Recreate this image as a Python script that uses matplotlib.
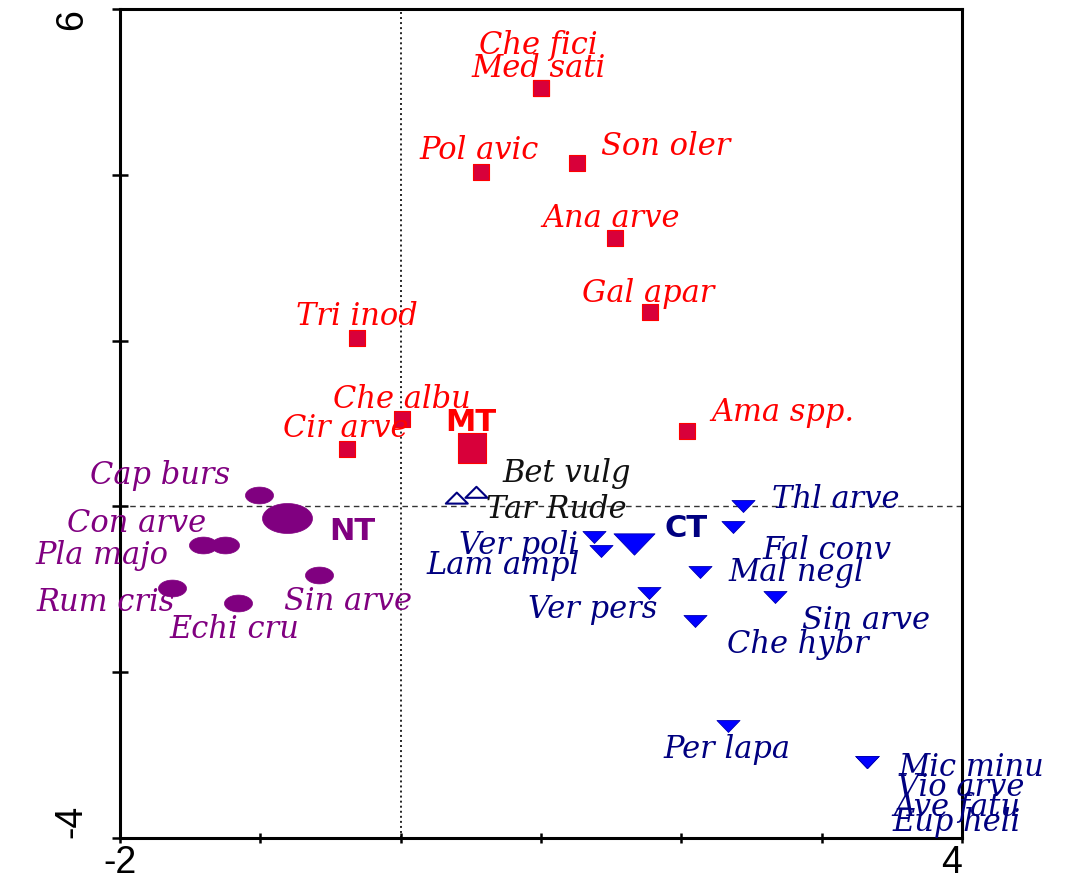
import numpy as np
import matplotlib
matplotlib.use('Agg')
from matplotlib import pyplot as plt
from matplotlib.path import Path

# species scores on the two ordination axes
mt_names = ['Che fici', 'Med sati', 'Pol avic', 'Son oler', 'Ana arve', 'Gal apar',
            'Tri inod', 'Che albu', 'Cir arve', 'Ama spp.']
mt_x = [1.00, 1.00, 0.57, 1.26, 1.53, 1.78, -0.31, 0.01, -0.38, 2.04]
mt_y = [5.05, 5.05, 4.03, 4.14, 3.24, 2.35, 2.03, 1.05, 0.69, 0.91]

nt_names = ['Cap burs', 'Con arve', 'Pla majo', 'Sin arve', 'Rum cris', 'Echi cru']
nt_x = [-1.01, -1.25, -1.41, -0.58, -1.63, -1.16]
nt_y = [0.14, -0.47, -0.47, -0.83, -0.98, -1.17]

open_names = ['Bet vulg', 'Tar Rude']
open_x = [0.54, 0.40]
open_y = [0.17, 0.10]

ct_names = ['Thl arve', 'Fal conv', 'Ver poli', 'Lam ampl', 'Mal negl', 'Ver pers',
            'Sin arve', 'Che hybr', 'Per lapa', 'Mic minu', 'Vio arve', 'Ave fatu', 'Eup heli']
ct_x = [2.44, 2.37, 1.38, 1.43, 2.13, 1.77, 2.67, 2.10, 2.33, 3.32, 3.32, 3.32, 3.32]
ct_y = [0.00, -0.25, -0.37, -0.54, -0.79, -1.04, -1.09, -1.38, -2.65, -3.08, -3.08, -3.08, -3.08]

# tillage centroids
trt_names = ['MT', 'NT', 'CT']
trt_x = [0.51, -0.81, 1.66]
trt_y = [0.70, -0.14, -0.45]

x_ticklabels = ['-2', '', '', '', '', '', '4']
y_ticklabels = ['-4', '', '', '', '', '6']

# label offsets from their point, in pixels
mt_off = [(-3, 46), (-2, 23), (-2, 25), (88, 20), (-4, 23), (-2, 22),
          (0, 25), (0, 23), (-2, 24), (96, 22)]
nt_off = [(-99, 23), (-89, 25), (-101, -7), (29, -23), (-66, -11), (-3, -23)]
open_off = [(90, 22), (100, -8)]
ct_off = [(93, 10), (94, -20), (-76, -5), (-98, -11), (97, 3), (-56, -13),
          (91, -20), (103, -20), (-1, -20), (105, -2), (94, -22), (90, -42), (90, -57)]
trt_off = [(-1, 29), (65, -10), (52, 18)]

RED = '#ff0000'
PURPLE = '#800080'
NAVY = '#000080'
BLUE = '#0000ff'


def shape(pts):
    pts = list(pts)
    return Path(pts + [pts[0]], closed=True)


t = np.linspace(0, 2 * np.pi, 60)
ellipse = shape(zip(np.cos(t), 0.6 * np.sin(t)))
rect = shape([(-0.94, -1), (0.94, -1), (0.94, 1), (-0.94, 1)])
big_rect = shape([(-0.9, -1), (0.9, -1), (0.9, 1), (-0.9, 1)])
down_tri = shape([(-1, 0.52), (1, 0.52), (0, -0.52)])
up_tri = shape([(-1, -0.5), (1, -0.5), (0, 0.5)])

fig = plt.figure(figsize=(10.65, 8.8), dpi=100)
ax = fig.add_axes([120 / 1065, 1 - 838 / 880, 842 / 1065, 829 / 880])
ax.set_xlim(-2, 4)
ax.set_ylim(-4, 6)

ax.axvline(0, color='#222222', lw=1.4, ls=(0, (1, 1.6)), zorder=1)
ax.axhline(0, color='#333333', lw=1.0, ls=(0, (4, 3)), zorder=1)

ax.scatter(mt_x, mt_y, marker=rect, s=149, color='#d8003a', edgecolor=RED, lw=0.8, zorder=3)
ax.scatter(nt_x, nt_y, marker=ellipse, s=408, color=PURPLE, edgecolor=PURPLE, lw=0.5, zorder=3)
ax.scatter(open_x, open_y, marker=up_tri, s=250, facecolor='none', edgecolor=NAVY, lw=1.5, zorder=3)
ax.scatter(ct_x, ct_y, marker=down_tri, s=275, color=BLUE, edgecolor='#0000b0', lw=0.6, zorder=3)

ax.scatter(trt_x[0], trt_y[0], marker=big_rect, s=497, color='#d8003a', edgecolor=RED, lw=0.8, zorder=3)
ax.scatter(trt_x[1], trt_y[1], marker=ellipse, s=1296, color=PURPLE, edgecolor=PURPLE, lw=0.5, zorder=3)
ax.scatter(trt_x[2], trt_y[2], marker=down_tri, s=870, color=BLUE, edgecolor='#0000b0', lw=0.6, zorder=3)


def put_labels(names, xs, ys, offs, color):
    for n, x, y, (dx, dy) in zip(names, xs, ys, offs):
        ax.annotate(n, (x, y), xytext=(dx, dy), textcoords='offset pixels',
                    ha='center', va='center_baseline', color=color, fontsize=22,
                    family='DejaVu Serif', style='italic', annotation_clip=False, zorder=4)


put_labels(mt_names, mt_x, mt_y, mt_off, RED)
put_labels(nt_names, nt_x, nt_y, nt_off, PURPLE)
put_labels(open_names, open_x, open_y, open_off, '#111111')
put_labels(ct_names, ct_x, ct_y, ct_off, NAVY)

for n, x, y, (dx, dy), c in zip(trt_names, trt_x, trt_y, trt_off, [RED, PURPLE, NAVY]):
    ax.annotate(n, (x, y), xytext=(dx, dy), textcoords='offset pixels',
                ha='center', va='center_baseline', color=c, fontsize=22,
                family='DejaVu Sans', weight='bold', zorder=4)

for s in ax.spines.values():
    s.set_linewidth(2.2)

ax.set_xticks(range(-2, 5))
ax.set_xticklabels(x_ticklabels, family='Liberation Sans', fontsize=27)
ax.set_yticks(range(-4, 7, 2))
ax.set_yticklabels(y_ticklabels, family='Liberation Sans', fontsize=27, rotation=90)
ax.tick_params(axis='x', direction='inout', length=6.5, width=1.8, pad=2)
ax.tick_params(axis='y', direction='inout', length=11.5, width=1.8, pad=16)
ax.get_xticklabels()[-1].set_ha('right')
ax.get_yticklabels()[0].set_va('bottom')
ax.get_yticklabels()[-1].set_va('top')

fig.savefig('out.png', dpi=100)
